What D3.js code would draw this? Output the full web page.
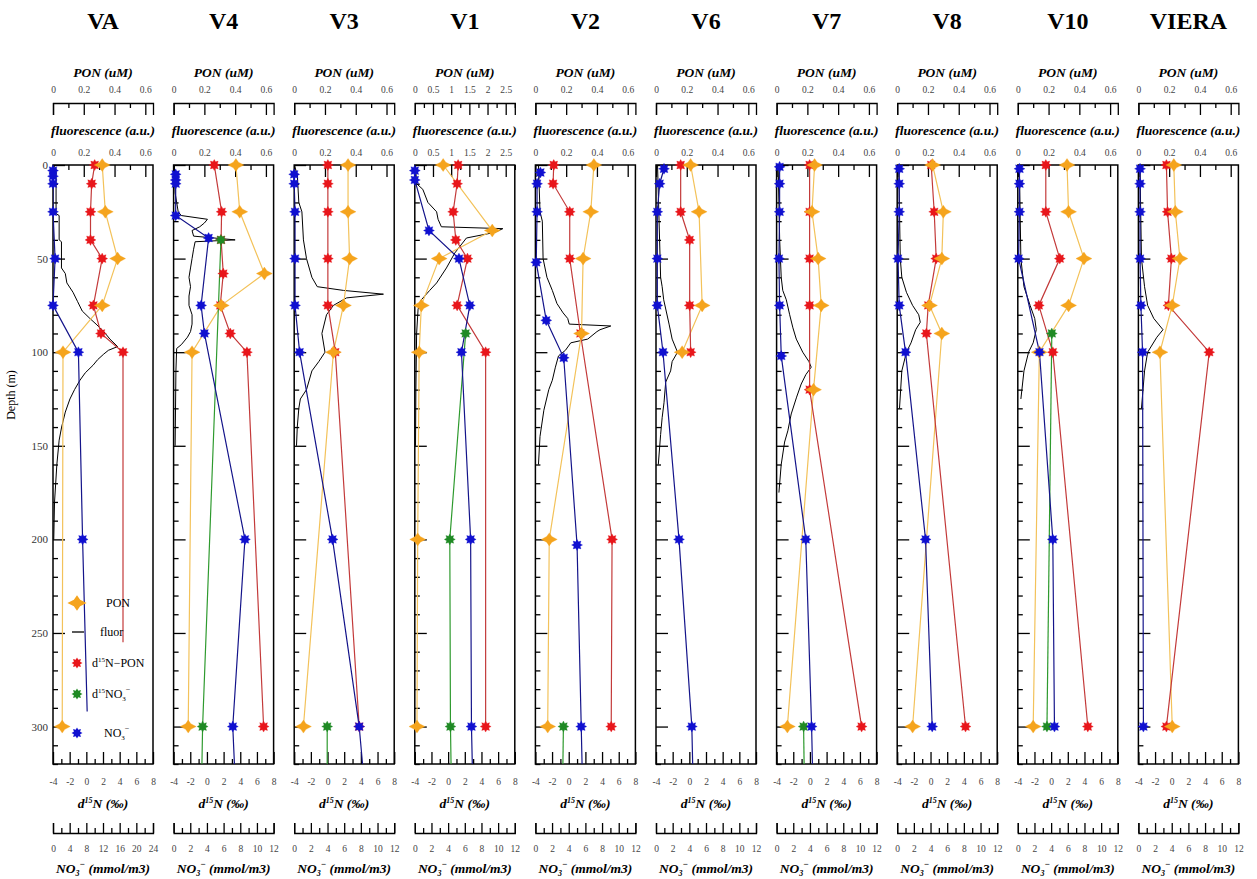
<!DOCTYPE html>
<html>
<head>
<meta charset="utf-8">
<script src="https://cdn.jsdelivr.net/npm/d3@7"></script>
<style>
body { margin: 0; background: #fff; }
text { font-family: "Liberation Serif", "Times New Roman", serif; }
</style>
</head>
<body>
<div id="chart"></div>
<script>
// stations, left to right
const stations = ["VA", "V4", "V3", "V1", "V2", "V6", "V7", "V8", "V10", "VIERA"];
// top axes (PON and fluorescence share the range)
const ponMax  = [0.65, 0.65, 0.65, 2.75, 0.65, 0.65, 0.65, 0.65, 0.65, 0.65];
const ponStep = [0.2, 0.2, 0.2, 0.5, 0.2, 0.2, 0.2, 0.2, 0.2, 0.2];
// bottom NO3 axis
const no3Max  = [24, 12, 12, 12, 12, 12, 12, 12, 12, 12];
const no3Step = [4, 2, 2, 2, 2, 2, 2, 2, 2, 2];

// [depth m, PON uM]
const ponData = [
  [[0,0.32],[25,0.34],[50,0.42],[75,0.32],[100,0.065],[300,0.06]],
  [[0,0.405],[25,0.43],[58,0.59],[75,0.31],[100,0.12],[300,0.095]],
  [[0,0.35],[25,0.35],[50,0.36],[75,0.32],[100,0.255],[300,0.06]],
  [[0,0.78],[35,2.13],[50,0.67],[75,0.18],[100,0.12],[200,0.08],[300,0.06]],
  [[0,0.38],[25,0.36],[50,0.31],[90,0.30],[200,0.09],[300,0.08]],
  [[0,0.225],[25,0.28],[75,0.30],[100,0.17]],
  [[0,0.247],[25,0.23],[50,0.27],[75,0.29],[120,0.24],[300,0.07]],
  [[0,0.23],[25,0.30],[50,0.29],[75,0.21],[90,0.29],[300,0.10]],
  [[0,0.32],[25,0.33],[50,0.43],[75,0.33],[100,0.14],[300,0.10]],
  [[0,0.23],[25,0.24],[50,0.27],[75,0.22],[100,0.14],[300,0.22]]
];

// [depth m, fluorescence a.u.]
const fluorData = [
  [[0,0.0],[2,0.02],[26,0.02],[27,0.04],[40,0.04],[41,0.055],[55,0.055],[58,0.08],[63,0.09],[68,0.13],[73,0.16],[78,0.19],[82,0.24],[85,0.28],[89,0.33],[93,0.37],[97,0.42],[99,0.36],[101,0.33],[104,0.29],[107,0.26],[111,0.21],[115,0.175],[120,0.14],[125,0.11],[132,0.08],[140,0.056],[147,0.04],[160,0.025],[180,0.01],[200,0.005]],
  [[0,0.005],[15,0.01],[20,0.02],[25,0.03],[27,0.05],[29,0.22],[31,0.2],[33,0.17],[35,0.12],[38,0.13],[40,0.4],[41,0.14],[45,0.13],[50,0.12],[55,0.11],[60,0.1],[65,0.11],[70,0.1],[75,0.1],[80,0.12],[85,0.12],[89,0.11],[92,0.09],[96,0.05],[98,0.02],[110,0.015],[150,0.01]],
  [[0,0.0],[5,0.02],[20,0.03],[25,0.05],[40,0.06],[50,0.08],[60,0.115],[65,0.15],[67,0.32],[69,0.58],[71,0.34],[75,0.255],[80,0.21],[90,0.18],[100,0.2],[105,0.16],[110,0.115],[120,0.08],[125,0.04],[130,0.03],[140,0.02],[150,0.015]],
  [[0,0.02],[10,0.05],[13,0.22],[20,0.36],[25,0.6],[29,0.64],[33,0.73],[34,2.42],[36,2.2],[39,1.42],[47,1.1],[55,0.87],[63,0.6],[67,0.41],[72,0.18],[77,0.09],[90,0.05],[120,0.03],[150,0.02]],
  [[0,0.02],[25,0.03],[30,0.045],[50,0.05],[60,0.075],[67,0.11],[74,0.14],[79,0.18],[82,0.21],[85,0.22],[86,0.49],[88,0.42],[89,0.40],[93,0.34],[95,0.23],[99,0.195],[102,0.15],[108,0.13],[115,0.11],[120,0.087],[131,0.055],[145,0.03],[160,0.02]],
  [[0,0.01],[30,0.02],[60,0.03],[65,0.04],[72,0.05],[85,0.085],[93,0.105],[100,0.14],[105,0.105],[110,0.095],[116,0.063],[127,0.052],[135,0.04],[144,0.03],[160,0.015]],
  [[0,0.01],[40,0.02],[60,0.03],[67,0.04],[72,0.063],[80,0.085],[87,0.106],[93,0.128],[100,0.17],[105,0.21],[108,0.225],[112,0.19],[117,0.16],[124,0.13],[133,0.095],[142,0.073],[148,0.052],[160,0.03],[175,0.015]],
  [[0,0.01],[50,0.02],[60,0.03],[68,0.06],[75,0.1],[80,0.14],[84,0.15],[88,0.12],[95,0.09],[100,0.06],[110,0.03],[130,0.015]],
  [[0,0.01],[50,0.02],[65,0.04],[75,0.08],[82,0.11],[88,0.12],[95,0.1],[100,0.07],[110,0.04],[125,0.02]],
  [[0,0.01],[50,0.02],[65,0.04],[75,0.06],[82,0.1],[88,0.16],[92,0.12],[100,0.06],[110,0.04],[130,0.02]]
];

// [depth m, d15N-PON permil]
const d15nPonData = [
  [[0,1.0],[10,0.64],[25,0.5],[40,0.5],[50,1.9],[75,0.85],[90,1.76],[100,4.4]],
  [[0,0.88],[25,1.76],[40,1.7],[58,1.96],[75,1.6],[90,2.8],[100,4.8],[300,6.8]],
  [[0,0.04],[10,0.04],[25,0.04],[50,0.04],[75,0.04],[100,0.93],[300,3.8]],
  [[0,1.2],[10,1.08],[25,0.6],[40,0.92],[50,2.32],[75,1.08],[100,4.5],[300,4.5]],
  [[0,-1.8],[10,-1.88],[25,0.12],[50,0.12],[90,1.4],[200,5.2],[300,5.1]],
  [[0,-1.04],[25,-1.04],[40,0.04],[75,0.04],[100,0.16]],
  [[0,-0.04],[25,-0.04],[50,-0.04],[75,-0.04],[120,-0.04],[300,6.2]],
  [[0,0.08],[25,0.44],[50,0.68],[75,-0.28],[90,-0.5],[300,4.2]],
  [[0,-0.64],[25,-0.64],[50,1.04],[75,-1.48],[100,0.2],[300,4.4]],
  [[0,-0.64],[25,-0.5],[50,-0.04],[75,-0.4],[100,4.5],[300,-0.64]]
];
const d15nPonTail = [[[255,4.4]], [], [], [], [], [], [], [], [], []];

// [depth m, d15N-NO3 permil]
const d15nNo3Data = [
  [],
  [[40,1.68],[300,-0.52]],
  [[300,-0.04]],
  [[90,2.1],[200,0.2],[300,0.28]],
  [[300,-0.64]],
  [],
  [[300,-0.76]],
  [],
  [[90,0.08],[300,-0.5]],
  []
];
const d15nNo3Tail = [[], [[320,-0.6]], [[320,-0.04]], [[320,0.35]], [[320,-0.7]], [], [[320,-0.7]], [], [], []];

// [depth m, NO3 mmol/m3]
const no3Data = [
  [[3,0],[6,0],[10,0],[25,0],[50,0.5],[75,0],[100,6.1],[200,7.1]],
  [[5,0.25],[8,0.25],[10,0.25],[27,0.25],[39,4.2],[75,3.3],[90,3.7],[200,8.56],[300,7.1]],
  [[5,0],[10,0],[25,0.1],[50,0.1],[75,0.1],[100,0.65],[200,4.6],[300,7.8]],
  [[3,0],[8,0],[35,1.7],[50,5.3],[75,6.6],[100,5.6],[200,6.7],[300,6.8]],
  [[4,0.6],[10,0.2],[25,0.2],[52,0.1],[83,1.3],[103,3.4],[203,5.0],[300,5.5]],
  [[2,0.96],[10,0.44],[25,0.16],[50,0.16],[75,0.16],[100,0.84],[200,2.76],[300,4.3]],
  [[1,0.36],[10,0.36],[25,0.36],[50,0.28],[75,0.36],[102,0.56],[200,3.5],[300,4.2]],
  [[2,0.24],[10,0.24],[25,0.24],[50,0.1],[75,0.24],[100,1.0],[200,3.4],[300,4.2]],
  [[2,0.2],[10,0.2],[25,0.2],[50,0.1],[100,2.6],[200,4.2],[300,4.4]],
  [[2,0.2],[10,0.2],[25,0.2],[50,0.2],[75,0.3],[100,0.5],[300,0.6]]
];
const no3Tail = [[[292,8.2]], [[320,7.3]], [[320,8.2]], [[320,6.9]], [[320,5.6]], [[320,4.4]], [[320,4.3]], [], [], []];

const legendItems = ["PON", "fluor", "d15N-PON", "d15NO3", "NO3"];

// ---------- layout ----------
const W = 1257, H = 879;
const panelLeft = 53, panelStep = 120.6, panelW = 100;
const plotTop = 165, plotBottom = 764;
const ponAxisY = 103, no3AxisY = 833;

const col = {
  pon: "#f5a41d", ponLine: "#f3c25a",
  red: "#e8161b", redLine: "#c33a3a",
  green: "#1f8a24", greenLine: "#2e9a2e",
  blue: "#1010d0", blueLine: "#14148a"
};

const svg = d3.select("#chart").append("svg")
  .attr("width", W).attr("height", H);

const y = d3.scaleLinear().domain([0, 320]).range([plotTop, plotBottom]);

function steps(a, b, s) {
  const out = [];
  for (let v = a; v <= b + 1e-9; v += s) out.push(+v.toFixed(4));
  return out;
}
function fmt(v) { return String(+v.toFixed(2)); }

// major + minor ticks with the same orientation
function axisPair(g, axisFn, scale, major, minor, lenMajor, lenMinor, pad, labels, outer) {
  const a = axisFn(scale).tickValues(major).tickSize(lenMajor).tickPadding(pad)
    .tickSizeOuter(outer === undefined ? 0 : outer)
    .tickFormat(labels ? fmt : () => "");
  g.call(a);
  if (outer === undefined) g.select(".domain").remove();
  const m = g.append("g");
  m.call(axisFn(scale).tickValues(minor).tickSize(lenMinor).tickFormat(() => ""));
  m.select(".domain").remove();
  g.selectAll("line, path").attr("stroke", "#000").attr("stroke-width", 1.3);
  g.selectAll("text").attr("font-size", 9.5).attr("fill", "#444")
    .attr("font-family", "'Liberation Serif', serif");
}

// marker shapes
function star8(r1, r2) {
  const pts = [];
  for (let k = 0; k < 16; k++) {
    const r = k % 2 ? r2 : r1, a = k * Math.PI / 8;
    pts.push([r * Math.cos(a), r * Math.sin(a)]);
  }
  return "M" + pts.map(p => p[0].toFixed(2) + "," + p[1].toFixed(2)).join("L") + "Z";
}
const starPath = star8(5.5, 3.4);
const ponPath = "M-8,0L-2.6,-2.8L0,-6.5L2.6,-2.8L8,0L2.6,2.8L0,6.5L-2.6,2.8Z";

const labelFont = 13.5;

stations.forEach((name, i) => {
  const x0 = panelLeft + i * panelStep, x1 = x0 + panelW, xc = (x0 + x1) / 2;
  const g = svg.append("g");

  const xPon = d3.scaleLinear().domain([0, ponMax[i]]).range([x0, x1]);
  const xFl = xPon.copy();
  const xD = d3.scaleLinear().domain([-4, 8]).range([x0, x1]);
  const xN = d3.scaleLinear().domain([0, no3Max[i]]).range([x0, x1]);

  const topMajor = steps(0, ponMax[i], ponStep[i]);
  const topMinor = steps(ponStep[i] / 2, ponMax[i], ponStep[i]).filter(v => !topMajor.includes(v));

  // station title
  g.append("text").attr("x", xc).attr("y", 29).attr("text-anchor", "middle")
    .attr("font-size", 24).attr("font-weight", "bold").text(name);

  // PON axis (separate line above)
  g.append("text").attr("x", xc).attr("y", 77).attr("text-anchor", "middle")
    .attr("font-size", labelFont).attr("font-weight", "bold").attr("font-style", "italic")
    .text("PON (uM)");
  axisPair(g.append("g").attr("transform", `translate(0,${ponAxisY})`),
    d3.axisTop, xPon, topMajor, topMinor, -12, -5, 10, true, -12);

  // fluorescence axis on the frame top
  g.append("text").attr("x", xc).attr("y", 135).attr("text-anchor", "middle")
    .attr("font-size", labelFont).attr("font-weight", "bold").attr("font-style", "italic")
    .text("fluorescence (a.u.)");
  axisPair(g.append("g").attr("transform", `translate(0,${plotTop})`),
    d3.axisTop, xFl, topMajor, topMinor, -12, -5, 9, true);

  // depth ticks on the left frame
  axisPair(g.append("g").attr("transform", `translate(${x0},0)`),
    d3.axisLeft, y, steps(0, 300, 50), steps(10, 320, 10).filter(v => v % 50),
    -12, -5, 5, i === 0);
  if (i === 0) g.selectAll("text").filter(function () { return this.getAttribute("dy") === "0.32em"; })
    .attr("font-size", 11).attr("fill", "#333");

  // d15N axis on the frame bottom
  axisPair(g.append("g").attr("transform", `translate(0,${plotBottom})`),
    d3.axisBottom, xD, steps(-4, 8, 2), steps(-3, 7, 2), -12, -5, 14, true);
  const dl = g.append("text").attr("x", xc).attr("y", 808).attr("text-anchor", "middle")
    .attr("font-size", labelFont).attr("font-weight", "bold").attr("font-style", "italic");
  dl.append("tspan").text("d");
  dl.append("tspan").attr("font-size", 8).attr("dy", -5).text("15");
  dl.append("tspan").attr("dy", 5).text("N (\u2030)");

  // NO3 axis below
  axisPair(g.append("g").attr("transform", `translate(0,${no3AxisY})`),
    d3.axisBottom, xN, steps(0, no3Max[i], no3Step[i]),
    steps(no3Step[i] / 2, no3Max[i], no3Step[i]), -10, -5, 12, true, -10);
  const nl = g.append("text").attr("x", xc).attr("y", 873).attr("text-anchor", "middle")
    .attr("font-size", labelFont).attr("font-weight", "bold").attr("font-style", "italic");
  nl.append("tspan").text("NO");
  nl.append("tspan").attr("font-size", 8).attr("dy", 3).text("3");
  nl.append("tspan").attr("font-size", 9).attr("dy", -9).text("\u2212");
  nl.append("tspan").attr("dy", 6).text(" (mmol/m3)");

  // frame
  g.append("rect").attr("x", x0).attr("y", plotTop).attr("width", panelW)
    .attr("height", plotBottom - plotTop).attr("fill", "none")
    .attr("stroke", "#000").attr("stroke-width", 1.5);

  const clip = "clip" + i;
  svg.append("clipPath").attr("id", clip).append("rect")
    .attr("x", x0).attr("y", plotTop).attr("width", panelW).attr("height", plotBottom - plotTop);
  const plot = g.append("g").attr("clip-path", `url(#${clip})`);

  const line = sx => d3.line().x(d => sx(d[1])).y(d => y(d[0]));

  // fluorescence profile
  plot.append("path").datum(fluorData[i]).attr("d", line(xFl))
    .attr("fill", "none").attr("stroke", "#000").attr("stroke-width", 1);

  // series lines
  const series = [
    { data: ponData[i], tail: [], sx: xPon, stroke: col.ponLine, fill: col.pon, shape: ponPath },
    { data: d15nPonData[i], tail: d15nPonTail[i], sx: xD, stroke: col.redLine, fill: col.red, shape: starPath },
    { data: d15nNo3Data[i], tail: d15nNo3Tail[i], sx: xD, stroke: col.greenLine, fill: col.green, shape: starPath },
    { data: no3Data[i], tail: no3Tail[i], sx: xN, stroke: col.blueLine, fill: col.blue, shape: starPath }
  ];
  series.forEach(s => {
    plot.append("path").datum(s.data.concat(s.tail)).attr("d", line(s.sx))
      .attr("fill", "none").attr("stroke", s.stroke).attr("stroke-width", 1.2);
  });
  [1, 0, 2, 3].forEach(k => {
    const s = series[k];
    g.append("g").selectAll("path").data(s.data).join("path")
      .attr("d", s.shape)
      .attr("transform", d => `translate(${s.sx(d[1])},${y(d[0])})`)
      .attr("fill", s.fill).attr("stroke", s.fill).attr("stroke-width", 0.6)
      .attr("stroke-opacity", 0.5);
  });
});

// depth label
svg.append("text").attr("transform", "translate(15,395) rotate(-90)")
  .attr("text-anchor", "middle").attr("font-size", 12).text("Depth (m)");

// legend in the first panel
const lg = svg.append("g");
const ly = [603, 632, 663, 694, 733];
const lx = 77;
lg.append("path").attr("d", ponPath).attr("transform", `translate(${lx},${ly[0]}) scale(1.2)`)
  .attr("fill", col.pon);
lg.append("line").attr("x1", lx - 5).attr("x2", lx + 7).attr("y1", ly[1]).attr("y2", ly[1])
  .attr("stroke", "#000").attr("stroke-width", 1.3);
lg.append("path").attr("d", starPath).attr("transform", `translate(${lx},${ly[2]})`).attr("fill", col.red);
lg.append("path").attr("d", starPath).attr("transform", `translate(${lx},${ly[3]})`).attr("fill", col.green);
lg.append("path").attr("d", starPath).attr("transform", `translate(${lx},${ly[4]})`).attr("fill", col.blue);

const lt = (yy, xx) => lg.append("text").attr("x", xx).attr("y", yy + 4).attr("font-size", 12);
lt(ly[0], 106).text(legendItems[0]);
lt(ly[1], 100).text(legendItems[1]);
let t = lt(ly[2], 92);
t.append("tspan").text("d");
t.append("tspan").attr("font-size", 7).attr("dy", -5).text("15");
t.append("tspan").attr("dy", 5).text("N\u2212PON");
t = lt(ly[3], 92);
t.append("tspan").text("d");
t.append("tspan").attr("font-size", 7).attr("dy", -5).text("15");
t.append("tspan").attr("dy", 5).text("NO");
t.append("tspan").attr("font-size", 7).attr("dy", 3).text("3");
t.append("tspan").attr("font-size", 8).attr("dy", -9).text("\u2212");
t = lt(ly[4], 104);
t.append("tspan").text("NO");
t.append("tspan").attr("font-size", 7).attr("dy", 3).text("3");
t.append("tspan").attr("font-size", 8).attr("dy", -9).text("\u2212");
</script>
</body>
</html>
